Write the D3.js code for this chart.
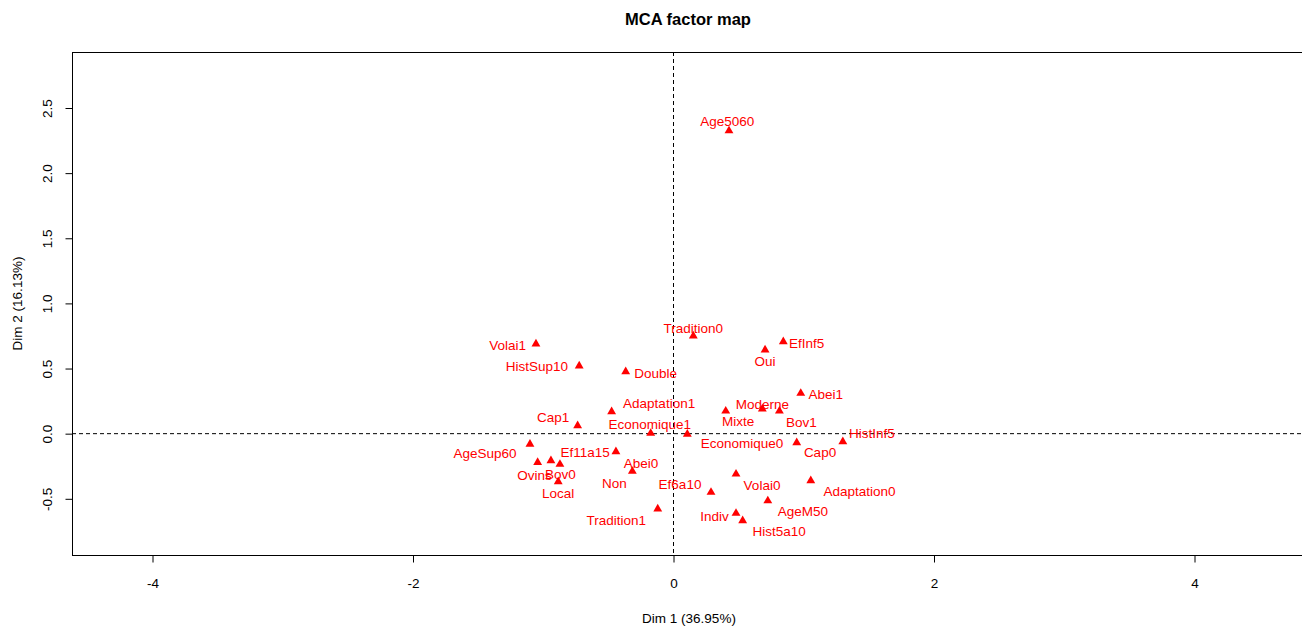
<!DOCTYPE html>
<html>
<head>
<meta charset="utf-8">
<script src="https://cdn.jsdelivr.net/npm/d3@7"></script>
<style>
  html, body { margin: 0; padding: 0; background: #ffffff; }
  svg { display: block; font-family: "Liberation Sans", Arial, sans-serif; }
</style>
</head>
<body>
<svg id="chart" width="1302" height="626"></svg>
<script>
// ---------- data ----------
const categories = [
  "Age5060", "Tradition0", "EfInf5", "Oui", "Volai1", "HistSup10", "Double", "Abei1",
  "Adaptation1", "Cap1", "Economique1", "Economique0", "Mixte", "Moderne", "Bov1", "HistInf5",
  "Cap0", "AgeSup60", "Ovins", "Bov0", "Ef11a15", "Local", "Abei0", "Non",
  "Tradition1", "Ef6a10", "Volai0", "Adaptation0", "AgeM50", "Indiv", "Hist5a10"
];
const dim1 = [
  0.426, 0.152, 0.843, 0.703, -1.056, -0.724, -0.367, 0.977,
  -0.475, -0.736, -0.175, 0.106, 0.401, 0.682, 0.813, 1.300,
  0.946, -1.102, -1.043, -0.941, -0.872, -0.885, -0.442, -0.316,
  -0.121, 0.288, 0.480, 1.054, 0.724, 0.480, 0.531
];
const dim2 = [
  2.325, 0.750, 0.707, 0.643, 0.689, 0.520, 0.476, 0.310,
  0.169, 0.061, 0.003, -0.004, 0.174, 0.190, 0.174, -0.061,
  -0.069, -0.081, -0.220, -0.207, -0.235, -0.369, -0.138, -0.289,
  -0.578, -0.450, -0.310, -0.361, -0.515, -0.611, -0.668
];
const xTicks = [-4, -2, 0, 2, 4];
const yTicks = [-0.5, 0.0, 0.5, 1.0, 1.5, 2.0, 2.5];
const titleText = "MCA factor map";
const xLabel = "Dim 1 (36.95%)";
const yLabel = "Dim 2 (16.13%)";

// ---------- label layout (pixel offsets of each label centre from its point) ----------
const labelDx = [
  -1.7, 0, 23.3, 0, -28.2, -42.3, 30, 25,
  47.5, -24.4, -1, 54.7, 12.5, 0, 22, 29,
  23.3, -45, -3.2, 9.5, 25.3, 0, 25, -18,
  -41.5, -31, 26, 48.8, 35, -21.5, 36.5
];
const labelDy = [
  -9.3, -7.7, 1.6, 11.7, 1.7, 0.7, 1.6, 1.7,
  -8.4, -8, -9, 9.3, 10.7, -4.7, 11.7, -8.4,
  10, 9.7, 13.4, 14.3, -11.3, 11.3, 12.3, 12,
  12, -7.3, 11, 11, 11, 3.4, 11
];

// ---------- layout ----------
const plot = { left: 72, top: 52, right: 1304, bottom: 555 };
const red = "#ff0000";
const fontSize = 13.5;
const locale = d3.formatLocale({ decimal: ".", thousands: ",", grouping: [3], currency: ["", ""], minus: "-" });

const svg = d3.select("#chart");

const x = d3.scaleLinear().domain([-4, 4]).range([152.5, 1194.5]);
const y = d3.scaleLinear().domain([-0.5, 2.5]).range([498.8, 108.0]);

// Title
svg.append("text")
  .attr("x", 688).attr("y", 19)
  .attr("text-anchor", "middle").attr("dominant-baseline", "central")
  .attr("font-weight", "bold").attr("font-size", 16.5)
  .text(titleText);

// Dashed reference lines
svg.append("line")
  .attr("x1", plot.left).attr("x2", plot.right)
  .attr("y1", y(0)).attr("y2", y(0))
  .attr("stroke", "#000").attr("stroke-width", 1)
  .attr("stroke-dasharray", "4,3");
svg.append("line")
  .attr("x1", x(0)).attr("x2", x(0))
  .attr("y1", plot.top).attr("y2", plot.bottom)
  .attr("stroke", "#000").attr("stroke-width", 1)
  .attr("stroke-dasharray", "4,3");

// Box
svg.append("rect")
  .attr("x", plot.left + 0.5).attr("y", plot.top + 0.5)
  .attr("width", plot.right - plot.left).attr("height", plot.bottom - plot.top)
  .attr("fill", "none").attr("stroke", "#000").attr("stroke-width", 1);

// X axis
const gx = svg.append("g")
  .attr("transform", `translate(0,${plot.bottom + 0.5})`)
  .call(d3.axisBottom(x).tickValues(xTicks).tickSize(7).tickFormat(locale.format("d")));
gx.select(".domain").remove();
gx.selectAll("line").attr("stroke", "#000");
gx.selectAll("text")
  .attr("y", 28).attr("dy", 0)
  .attr("dominant-baseline", "central")
  .attr("font-size", fontSize).attr("font-family", "Liberation Sans, Arial, sans-serif")
  .attr("fill", "#000");

// Y axis
const gy = svg.append("g")
  .attr("transform", `translate(${plot.left + 0.5},0)`)
  .call(d3.axisLeft(y).tickValues(yTicks).tickSize(7).tickFormat(locale.format(".1f")));
gy.select(".domain").remove();
gy.selectAll("line").attr("stroke", "#000");
gy.selectAll("text")
  .attr("x", 0).attr("y", 0).attr("dy", 0)
  .attr("text-anchor", "middle")
  .attr("dominant-baseline", "central")
  .attr("transform", "translate(-25,0) rotate(-90)")
  .attr("font-size", fontSize).attr("font-family", "Liberation Sans, Arial, sans-serif")
  .attr("fill", "#000");

// Axis titles
svg.append("text")
  .attr("x", 689).attr("y", 618)
  .attr("text-anchor", "middle").attr("dominant-baseline", "central")
  .attr("font-size", fontSize)
  .text(xLabel);
svg.append("text")
  .attr("transform", `translate(17,${(plot.top + plot.bottom) / 2}) rotate(-90)`)
  .attr("text-anchor", "middle").attr("dominant-baseline", "central")
  .attr("font-size", fontSize)
  .text(yLabel);

// Points
const pts = categories.map((c, i) => ({ name: c, d1: dim1[i], d2: dim2[i], dx: labelDx[i], dy: labelDy[i] }));

const tri = d3.symbol().type(d3.symbolTriangle).size(34);
svg.append("g").selectAll("path")
  .data(pts).join("path")
  .attr("d", tri)
  .attr("transform", d => `translate(${x(d.d1)},${y(d.d2)})`)
  .attr("fill", red);

svg.append("g").selectAll("text")
  .data(pts).join("text")
  .attr("x", d => x(d.d1) + d.dx)
  .attr("y", d => y(d.d2) + d.dy)
  .attr("text-anchor", "middle").attr("dominant-baseline", "central")
  .attr("font-size", fontSize)
  .attr("fill", red)
  .text(d => d.name);
</script>
</body>
</html>
